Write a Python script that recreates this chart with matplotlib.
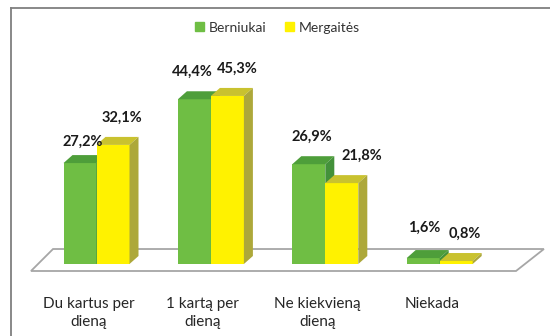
import numpy as np
import matplotlib.pyplot as plt
from matplotlib.patches import Polygon, Patch
from matplotlib.lines import Line2D

plt.rcParams['font.family'] = ['Lato', 'DejaVu Sans']

categories = ["Du kartus per\ndieną", "1 kartą per\ndieną", "Ne kiekvieną\ndieną", "Niekada"]
berniukai = [27.2, 44.4, 26.9, 1.6]
mergaites = [32.1, 45.3, 21.8, 0.8]
series_names = ["Berniukai", "Mergaitės"]

# colours: front, top, side
green = ("#6fbe44", "#4e9e3a", "#43913a")
yellow = ("#fff200", "#c9c22f", "#ada83a")

# px -> data: 114.4 px per category, 3.71 px per percent
PX_X = 114.4
PX_Y = 3.71
bar_w = 33 / PX_X
dx = 9 / PX_X
dy = 8 / PX_Y


def fmt(v):
    return ("%.1f%%" % v).replace(".", ",")


def bar3d(ax, x0, h, cols):
    front, top, side = cols
    ax.bar(x0, h, width=bar_w, align="edge", color=front, lw=0, zorder=3)
    ax.add_patch(Polygon([(x0, h), (x0 + dx, h + dy), (x0 + bar_w + dx, h + dy),
                          (x0 + bar_w, h)], closed=True, fc=top, lw=0, zorder=3))
    ax.add_patch(Polygon([(x0 + bar_w, 0), (x0 + bar_w + dx, dy),
                          (x0 + bar_w + dx, h + dy), (x0 + bar_w, h)],
                         closed=True, fc=side, lw=0, zorder=3))


def main():
    fig = plt.figure(figsize=(5.5, 3.36), dpi=100)
    ax = fig.add_axes([0, 0, 1, 1])
    ax.set_xlim(-96.5 / PX_X, (550 - 96.5) / PX_X)
    ax.set_ylim(-(336 - 264) / PX_Y, 264 / PX_Y)
    ax.axis("off")

    # floor
    floor = [(-0.5726, -1.887), (-0.380, 4.04), (3.911, 4.04), (3.667, -1.887)]
    ax.add_patch(Polygon(floor, closed=True, fc="white", ec="#a6a6a6", lw=1.3, zorder=2))

    x = np.arange(len(categories))
    # label shifts in px (x, y) so neighbouring labels don't collide
    nudge_g = [(0, -6), (-5, 0), (0.5, 0), (-1, 3)]
    nudge_y = [(0, 0), (1, 0), (12, 0), (0, 0)]
    lift = 27 / PX_Y
    for i in range(len(categories)):
        xg = x[i] - bar_w
        xy = x[i]
        bar3d(ax, xg, berniukai[i], green)
        bar3d(ax, xy, mergaites[i], yellow)
        ax.text(xg + bar_w / 2 + (2.5 + nudge_g[i][0]) / PX_X,
                berniukai[i] + lift + nudge_g[i][1] / PX_Y,
                fmt(berniukai[i]), ha="center", va="center", fontsize=10.5,
                fontweight="bold", color="#1a1a1a", zorder=5)
        ax.text(xy + bar_w / 2 + (8.5 + nudge_y[i][0]) / PX_X,
                mergaites[i] + lift + nudge_y[i][1] / PX_Y,
                fmt(mergaites[i]), ha="center", va="center", fontsize=10.5,
                fontweight="bold", color="#1a1a1a", zorder=5)
        ax.text(x[i] - 8 / PX_X, -8.9, categories[i], ha="center", va="top",
                fontsize=11, color="#262626", linespacing=1.35)

    handles = [Patch(color=green[0]), Patch(color=yellow[0])]
    fig.legend(handles, series_names, loc="center", bbox_to_anchor=(0.504, 0.918),
               ncol=2, frameon=False, fontsize=10, handlelength=0.65, handleheight=0.65,
               handletextpad=0.35, columnspacing=1.3, labelcolor="#333333")

    # outer frame (left and top edges)
    fig.add_artist(Line2D([10.5 / 550, 10.5 / 550], [0, 1 - 7.5 / 336], color="#7f7f7f", lw=1.3))
    fig.add_artist(Line2D([10.5 / 550, 1], [1 - 7.5 / 336, 1 - 7.5 / 336], color="#7f7f7f", lw=1.3))

    fig.savefig("out.png", dpi=100, facecolor="white")


if __name__ == "__main__":
    main()
